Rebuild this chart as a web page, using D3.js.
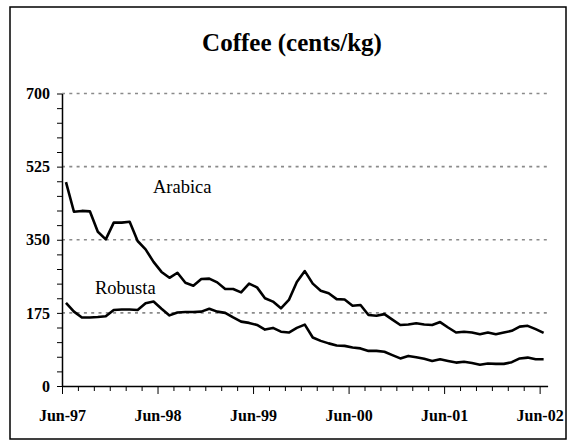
<!DOCTYPE html>
<html>
<head>
<meta charset="utf-8">
<script src="https://cdn.jsdelivr.net/npm/d3@7"></script>
<style>
  html, body { margin: 0; padding: 0; background: #fff; }
  svg { display: block; }
  text { font-family: "Times New Roman", "Liberation Serif", serif; }
</style>
</head>
<body>
<div id="chart"></div>
<script>
// 月份 (Jun-97 .. Jun-02)
const months = [
  'Jun-97','Jul-97','Aug-97','Sep-97','Oct-97','Nov-97','Dec-97','Jan-98','Feb-98','Mar-98','Apr-98','May-98',
  'Jun-98','Jul-98','Aug-98','Sep-98','Oct-98','Nov-98','Dec-98','Jan-99','Feb-99','Mar-99','Apr-99','May-99',
  'Jun-99','Jul-99','Aug-99','Sep-99','Oct-99','Nov-99','Dec-99','Jan-00','Feb-00','Mar-00','Apr-00','May-00',
  'Jun-00','Jul-00','Aug-00','Sep-00','Oct-00','Nov-00','Dec-00','Jan-01','Feb-01','Mar-01','Apr-01','May-01',
  'Jun-01','Jul-01','Aug-01','Sep-01','Oct-01','Nov-01','Dec-01','Jan-02','Feb-02','Mar-02','Apr-02','May-02',
  'Jun-02'
];

const arabica = [
  488, 417, 419, 418, 369, 351, 391, 391, 393, 347, 327, 297,
  273, 259, 271, 247, 240, 256, 257, 248, 232, 232, 224, 245,
  236, 210, 202, 186, 206, 249, 275, 245, 228, 222, 208, 207,
  192, 194, 170, 168, 172, 159, 146, 147, 150, 147, 146, 153,
  140, 128, 130, 128, 124, 128, 124, 128, 132, 142, 144, 136,
  127
];

const robusta = [
  199, 178, 164, 164, 165, 167, 182, 183, 183, 182, 198, 202,
  185, 169, 176, 177, 177, 178, 185, 178, 175, 164, 154, 151,
  146, 135, 139, 130, 128, 139, 147, 116, 108, 102, 97, 96,
  92, 90, 84, 84, 82, 74, 66, 72, 69, 65, 60, 64,
  60, 56, 58, 55, 51, 54, 53, 53, 57, 66, 68, 64,
  64
];

const yTicks = [0, 175, 350, 525, 700];

const W = 575, H = 440;

const svg = d3.select('#chart').append('svg')
  .attr('width', W)
  .attr('height', H);

// 外框
svg.append('rect')
  .attr('x', 10).attr('y', 7)
  .attr('width', 556).attr('height', 432)
  .attr('fill', 'none')
  .attr('stroke', '#000')
  .attr('stroke-width', 1.5);

svg.append('text')
  .attr('x', 292).attr('y', 51)
  .attr('text-anchor', 'middle')
  .attr('font-size', 25)
  .attr('font-weight', 'bold')
  .text('Coffee (cents/kg)');

const x = d3.scaleLinear().domain([0, months.length]).range([62, 547.6]);
const y = d3.scaleLinear().domain([0, 700]).range([386, 93.5]);

// 格線
svg.append('g')
  .selectAll('line')
  .data(yTicks.filter(d => d > 0))
  .enter().append('line')
  .attr('x1', x(0)).attr('x2', x(months.length))
  .attr('y1', d => y(d)).attr('y2', d => y(d))
  .attr('stroke', '#8a8a8a')
  .attr('stroke-width', 1.6)
  .attr('stroke-dasharray', '3,4.3');

// Y 軸
const yAxis = svg.append('g')
  .attr('transform', `translate(${x(0)},0)`)
  .call(d3.axisLeft(y)
    .tickValues(d3.range(0, 701, 35))
    .tickSize(5)
    .tickSizeOuter(0)
    .tickPadding(7)
    .tickFormat(d => yTicks.includes(d) ? d : ''));
yAxis.select('.domain').attr('stroke-width', 1.5);
yAxis.selectAll('text')
  .attr('font-size', 16)
  .attr('font-weight', 'bold')
  .attr('fill', '#000')
  .attr('font-family', '"Times New Roman", "Liberation Serif", serif');

// X 軸
const xAxis = svg.append('g')
  .attr('transform', `translate(0,${y(0)})`)
  .call(d3.axisBottom(x)
    .tickValues(d3.range(0, months.length, 2))
    .tickSize(5)
    .tickSizeOuter(0)
    .tickFormat(i => i % 12 === 0 ? months[i] : ''));
xAxis.select('.domain').attr('stroke-width', 1.5);
xAxis.selectAll('.tick line')
  .attr('y2', i => i % 12 === 0 ? 8 : 5);
xAxis.selectAll('text')
  .attr('y', 35)
  .attr('dy', 0)
  .attr('font-size', 16)
  .attr('font-weight', 'bold')
  .attr('fill', '#000')
  .attr('font-family', '"Times New Roman", "Liberation Serif", serif');

// 折線
const line = d3.line()
  .x((d, i) => x(i + 0.5))
  .y(d => y(d));

[arabica, robusta].forEach(series => {
  svg.append('path')
    .datum(series)
    .attr('d', line)
    .attr('fill', 'none')
    .attr('stroke', '#000')
    .attr('stroke-width', 2.6)
    .attr('stroke-linejoin', 'round');
});

svg.append('text')
  .attr('x', 153).attr('y', 193)
  .attr('font-size', 18.5)
  .text('Arabica');

svg.append('text')
  .attr('x', 95).attr('y', 294)
  .attr('font-size', 18.5)
  .text('Robusta');
</script>
</body>
</html>
